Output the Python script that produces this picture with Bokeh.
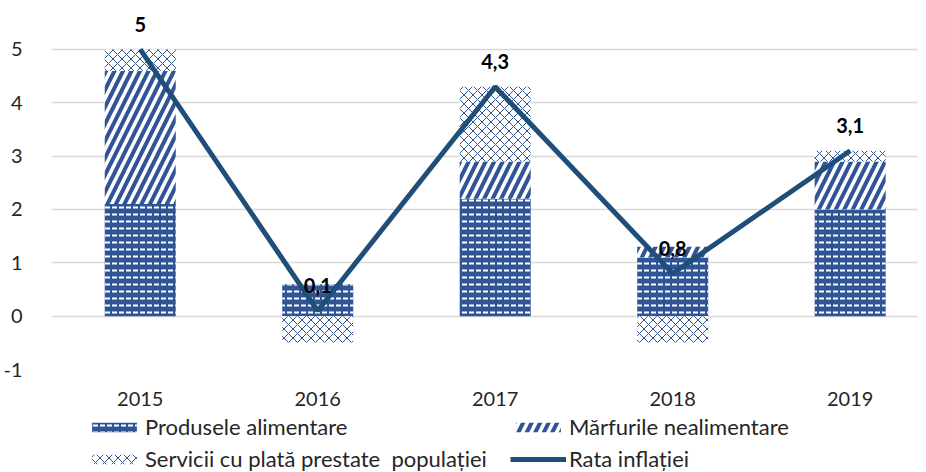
import numpy as np
from bokeh.plotting import figure
from bokeh.layouts import column
from bokeh.models import (Range1d, FixedTicker, Legend, LegendItem, ColumnDataSource)
from bokeh.core.properties import value
from bokeh.embed import file_html
from bokeh.resources import INLINE

years = [2015, 2016, 2017, 2018, 2019]
produse_alimentare = [2.1, 0.6, 2.2, 1.1, 2.0]
marfuri_nealimentare = [2.5, 0.0, 0.7, 0.2, 0.9]
servicii = [0.4, -0.5, 1.4, -0.5, 0.2]
rata_inflatiei = [5.0, 0.1, 4.3, 0.8, 3.1]
rata_labels = ["5", "0,1", "4,3", "0,8", "3,1"]
y_ticks = [-1, 0, 1, 2, 3, 4, 5]
series_names = ["Produsele alimentare", "Mărfurile nealimentare",
                "Servicii cu plată prestate  populației", "Rata inflației"]

FONT = "Lato"
BLUE = "#2F5597"
LINE = "#1F4E79"
TXT = "#262626"

styles = [
    dict(fill_color=BLUE, line_color=None, hatch_pattern="horizontal_dash",
         hatch_color="white", hatch_scale=7, hatch_weight=2),
    dict(fill_color="white", line_color=None, hatch_pattern="right_diagonal_line",
         hatch_color=BLUE, hatch_scale=17, hatch_weight=4),
    dict(fill_color="white", line_color=None, hatch_pattern="diagonal_cross",
         hatch_color=BLUE, hatch_scale=9, hatch_weight=1),
]

# stacking: positives up, negatives down
series = [produse_alimentare, marfuri_nealimentare, servicii]
pos_base = np.zeros(len(years))
neg_base = np.zeros(len(years))
bottoms, tops = [], []
for s in series:
    s = np.array(s, dtype=float)
    b = np.where(s >= 0, pos_base, neg_base)
    t = b + s
    pos_base = np.where(s >= 0, t, pos_base)
    neg_base = np.where(s < 0, t, neg_base)
    bottoms.append(b)
    tops.append(t)

p = figure(width=910, height=411, frame_width=867, frame_height=358,
           output_backend="svg", toolbar_location=None,
           x_range=Range1d(2014.5, 2019.385), y_range=Range1d(-1, 5.71),
           min_border_left=43, min_border_right=0, min_border_top=11,
           min_border_bottom=42)
p.outline_line_color = None
p.xgrid.grid_line_color = None
p.ygrid.grid_line_color = "#D9D9D9"
p.ygrid.grid_line_width = 1.5
p.yaxis.ticker = FixedTicker(ticks=y_ticks)
p.yaxis.major_label_overrides = {t: str(t) for t in y_ticks}
p.xaxis.ticker = FixedTicker(ticks=years)
for ax in (p.xaxis, p.yaxis):
    ax.axis_line_color = None
    ax.major_tick_line_color = None
    ax.minor_tick_line_color = None
    ax.major_label_text_font = FONT
    ax.major_label_text_font_size = "20px"
    ax.major_label_text_color = TXT
p.yaxis.major_label_standoff = 23
p.xaxis.major_label_standoff = 16

w = 0.4
for i in range(3):
    p.vbar(x=years, bottom=bottoms[i], top=tops[i], width=w, **styles[i])
p.line(x=years, y=rata_inflatiei, line_color=LINE, line_width=5)

src = ColumnDataSource(dict(x=years, y=rata_inflatiei, t=rata_labels))
p.text(x="x", y="y", text="t", source=src, text_font=value(FONT),
       text_font_style="bold", text_font_size="20px", text_color="black",
       text_align="center", text_baseline="middle", y_offset=-25)

# legend strip (proxy renderers lie outside its visible range)
lg = figure(width=910, height=60, output_backend="svg", toolbar_location=None,
            x_range=Range1d(0, 1), y_range=Range1d(0, 1),
            min_border=0, x_axis_location=None, y_axis_location=None)
lg.outline_line_color = None
lg.grid.visible = False
lr = [lg.vbar(x=years, bottom=bottoms[i], top=tops[i], width=w, **styles[i]) for i in range(3)]
lr.append(lg.line(x=years, y=rata_inflatiei, line_color=LINE, line_width=5))

legend = Legend(items=[LegendItem(label=n, renderers=[r]) for n, r in zip(series_names, lr)],
                ncols=2, orientation="horizontal", location=(35, -1))
legend.label_text_font = FONT
legend.label_text_font_size = "22px"
legend.label_text_color = TXT
legend.glyph_width = 56
legend.glyph_height = 12
legend.label_standoff = 3
legend.label_width = 360
legend.spacing = 5
legend.padding = 0
legend.margin = 0
legend.border_line_color = None
legend.background_fill_alpha = 0
legend.label_height = 24
legend.label_text_line_height = 1.0
lg.add_layout(legend)

layout = column(p, lg, spacing=0)
open("out.html", "w").write(file_html(layout, INLINE))
